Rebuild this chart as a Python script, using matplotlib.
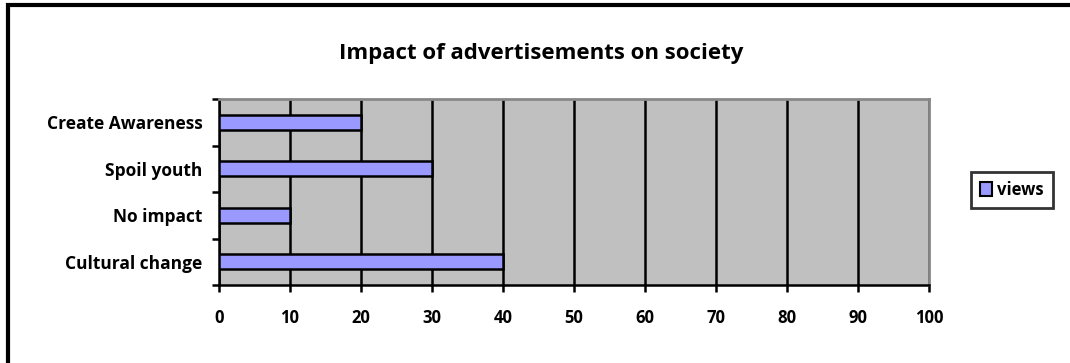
import matplotlib.pyplot as plt
from matplotlib.lines import Line2D
from matplotlib.patches import Patch

categories = ["Cultural change", "No impact", "Spoil youth", "Create Awareness"]
views = [40, 10, 30, 20]
x_ticks = [0, 10, 20, 30, 40, 50, 60, 70, 80, 90, 100]

plt.rcParams['font.family'] = ['Open Sans', 'DejaVu Sans']

W, H = 1070, 363
fig = plt.figure(figsize=(W / 100, H / 100), dpi=100)
fig.patch.set_facecolor('white')

# chart frame: only the left and top edges are visible
bx, by = 7.5 / W, 1 - 4.5 / H
fig.lines.append(Line2D([bx, bx, 1.0], [0.0, by, by], transform=fig.transFigure,
                        color='black', linewidth=3, solid_joinstyle='miter'))

ax = fig.add_axes([219 / W, 78 / H, 710 / W, 186 / H])
ax.set_facecolor('#C0C0C0')

pos = list(range(len(categories)))
ax.barh(pos, views, height=0.33, color='#9999FF', edgecolor='black', linewidth=1.8, zorder=3)

ax.set_xlim(0, 100)
ax.set_ylim(-0.5, len(categories) - 0.5)
ax.set_xticks(x_ticks)
ax.set_xticklabels([str(t) for t in x_ticks], fontweight='bold', fontsize=12)
ax.set_yticks(pos)
ax.set_yticklabels(categories, fontweight='bold', fontsize=12.5)
ax.tick_params(axis='y', length=0, pad=12)
ax.tick_params(axis='x', length=5, width=1.8, pad=12)
ax.set_yticks([p - 0.5 for p in pos] + [len(categories) - 0.5], minor=True)
ax.tick_params(axis='y', which='minor', length=5, width=1.8)

ax.grid(axis='x', color='black', linewidth=1.8, zorder=1)
ax.set_axisbelow(True)

for side in ['top', 'right']:
    ax.spines[side].set_color('#888888')
    ax.spines[side].set_linewidth(2)
for side in ['left', 'bottom']:
    ax.spines[side].set_color('black')
    ax.spines[side].set_linewidth(1.8)

fig.text(541 / W, 1 - 53 / H, "Impact of advertisements on society", ha='center', va='center',
         fontweight='bold', fontsize=16)

leg = fig.legend(handles=[Patch(facecolor='#9999FF', edgecolor='black', linewidth=1.5, label='views')],
                 loc='center', bbox_to_anchor=(1012 / W, 1 - 190 / H), frameon=True, fancybox=False,
                 prop={'weight': 'bold', 'size': 12}, handlelength=0.75, handleheight=0.9,
                 handletextpad=0.3, borderpad=0.55, borderaxespad=0)
leg.get_frame().set_edgecolor('black')
leg.get_frame().set_linewidth(2)

fig.savefig('out.png', dpi=100)
